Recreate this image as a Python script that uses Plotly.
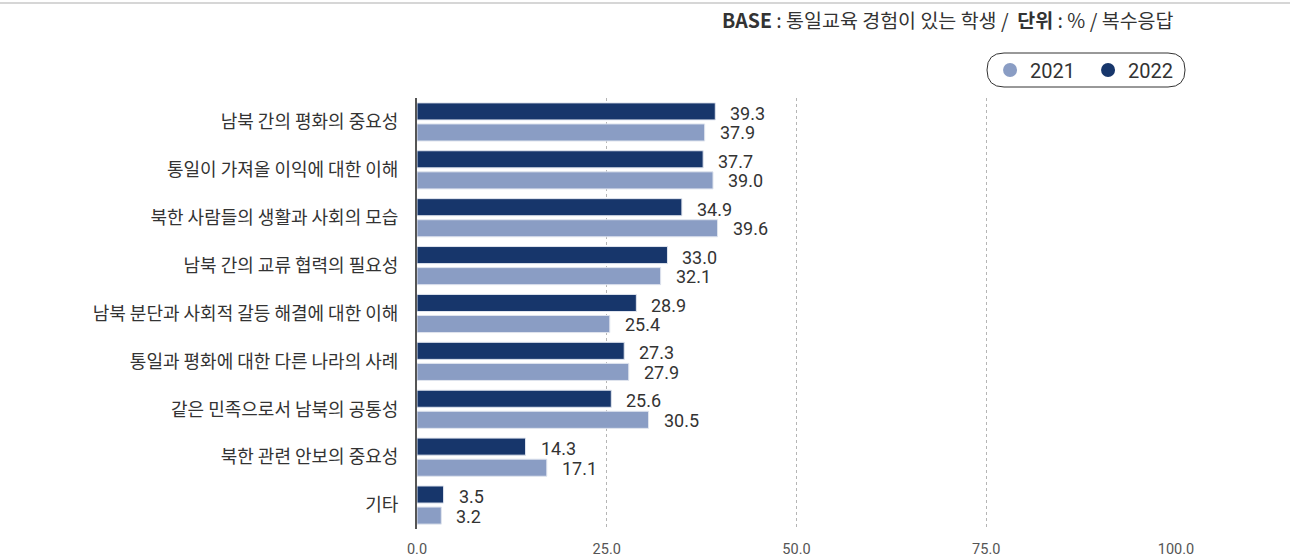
import plotly.graph_objects as go

categories = [
    "남북 간의 평화의 중요성",
    "통일이 가져올 이익에 대한 이해",
    "북한 사람들의 생활과 사회의 모습",
    "남북 간의 교류 협력의 필요성",
    "남북 분단과 사회적 갈등 해결에 대한 이해",
    "통일과 평화에 대한 다른 나라의 사례",
    "같은 민족으로서 남북의 공통성",
    "북한 관련 안보의 중요성",
    "기타",
]
values_2022 = [39.3, 37.7, 34.9, 33.0, 28.9, 27.3, 25.6, 14.3, 3.5]
values_2021 = [37.9, 39.0, 39.6, 32.1, 25.4, 27.9, 30.5, 17.1, 3.2]
x_ticks = [0, 25, 50, 75, 100]

COLOR_2022 = "#17366b"
COLOR_2021 = "#8a9dc4"
TEXT = "#333333"
KR_FONT = "Noto Sans CJK KR"
NUM_FONT = "Roboto"

fig = go.Figure()
fig.add_trace(go.Bar(
    y=categories, x=values_2022, orientation="h", name="2022",
    marker=dict(color=COLOR_2022, line=dict(color="#dfe4ee", width=1)),
    showlegend=False, hoverinfo="x",
))
fig.add_trace(go.Bar(
    y=categories, x=values_2021, orientation="h", name="2021",
    marker=dict(color=COLOR_2021, line=dict(color="#dfe4ee", width=1)),
    showlegend=False, hoverinfo="x",
))

# legend entries drawn as round markers
for name, col in [("2021", COLOR_2021), ("2022", COLOR_2022)]:
    fig.add_trace(go.Scatter(
        x=[None], y=[None], mode="markers", name=name,
        marker=dict(symbol="circle", size=14, color=col),
    ))

# value labels beside each bar
annotations = []
for cat, v22, v21 in zip(categories, values_2022, values_2021):
    for v, shift in [(v22, 8.5), (v21, -11)]:
        annotations.append(dict(
            x=v, y=cat, xref="x", yref="y", text=f"{v:.1f}",
            showarrow=False, xanchor="left", yanchor="middle",
            xshift=13, yshift=shift,
            font=dict(family=NUM_FONT, size=18, color=TEXT),
        ))

# header note
annotations.append(dict(
    x=1.0, y=1.181, xref="paper", yref="paper",
    xanchor="right", yanchor="middle", showarrow=False,
    text="<b>BASE</b> : 통일교육 경험이 있는 학생 /  <b>단위</b> : % / 복수응답",
    font=dict(family=KR_FONT, size=19.5, color=TEXT),
))

# rounded legend frame
x0, x1 = 0.751, 1.0119
y0, y1 = 1.0255, 1.1044
rx, ry = 0.0224, 0.0394
path = (
    f"M {x0+rx},{y1} L {x1-rx},{y1} Q {x1},{y1} {x1},{y1-ry} "
    f"L {x1},{y0+ry} Q {x1},{y0} {x1-rx},{y0} "
    f"L {x0+rx},{y0} Q {x0},{y0} {x0},{y0+ry} "
    f"L {x0},{y1-ry} Q {x0},{y1} {x0+rx},{y1} Z"
)
shapes = [
    dict(type="path", xref="paper", yref="paper", path=path,
         line=dict(color="#333333", width=1), fillcolor="rgba(0,0,0,0)"),
    dict(type="line", xref="paper", yref="paper",
         x0=-0.56, x1=1.16, y0=1.2204, y1=1.2204,
         line=dict(color="#c8c8c8", width=1.5)),
]

fig.update_layout(
    width=1290, height=556,
    margin=dict(l=417, r=114, t=98, b=27),
    paper_bgcolor="white", plot_bgcolor="white",
    barmode="group", bargap=0.12, bargroupgap=0.19,
    font=dict(family=KR_FONT, color=TEXT),
    legend=dict(
        orientation="h", x=0.755, y=1.065, xanchor="left", yanchor="middle",
        font=dict(family=NUM_FONT, size=20, color=TEXT),
        itemwidth=30, entrywidth=53, bgcolor="rgba(0,0,0,0)",
    ),
    annotations=annotations,
    shapes=shapes,
    xaxis=dict(
        range=[0, 100], tickvals=x_ticks, tickformat=".1f",
        showgrid=True, gridcolor="#b5b5b5", griddash="dot", gridwidth=1,
        zeroline=False, showline=False, automargin=False,
        tickfont=dict(family=NUM_FONT, size=14.5, color="#555555"),
        ticklabelstandoff=9, fixedrange=True,
    ),
    yaxis=dict(
        autorange="reversed", showgrid=False, zeroline=False,
        showline=True, linecolor="#555555", linewidth=2, automargin=False,
        tickfont=dict(family=KR_FONT, size=18, color=TEXT),
        ticklabelstandoff=13, fixedrange=True,
    ),
)

fig.write_html("out.html")
